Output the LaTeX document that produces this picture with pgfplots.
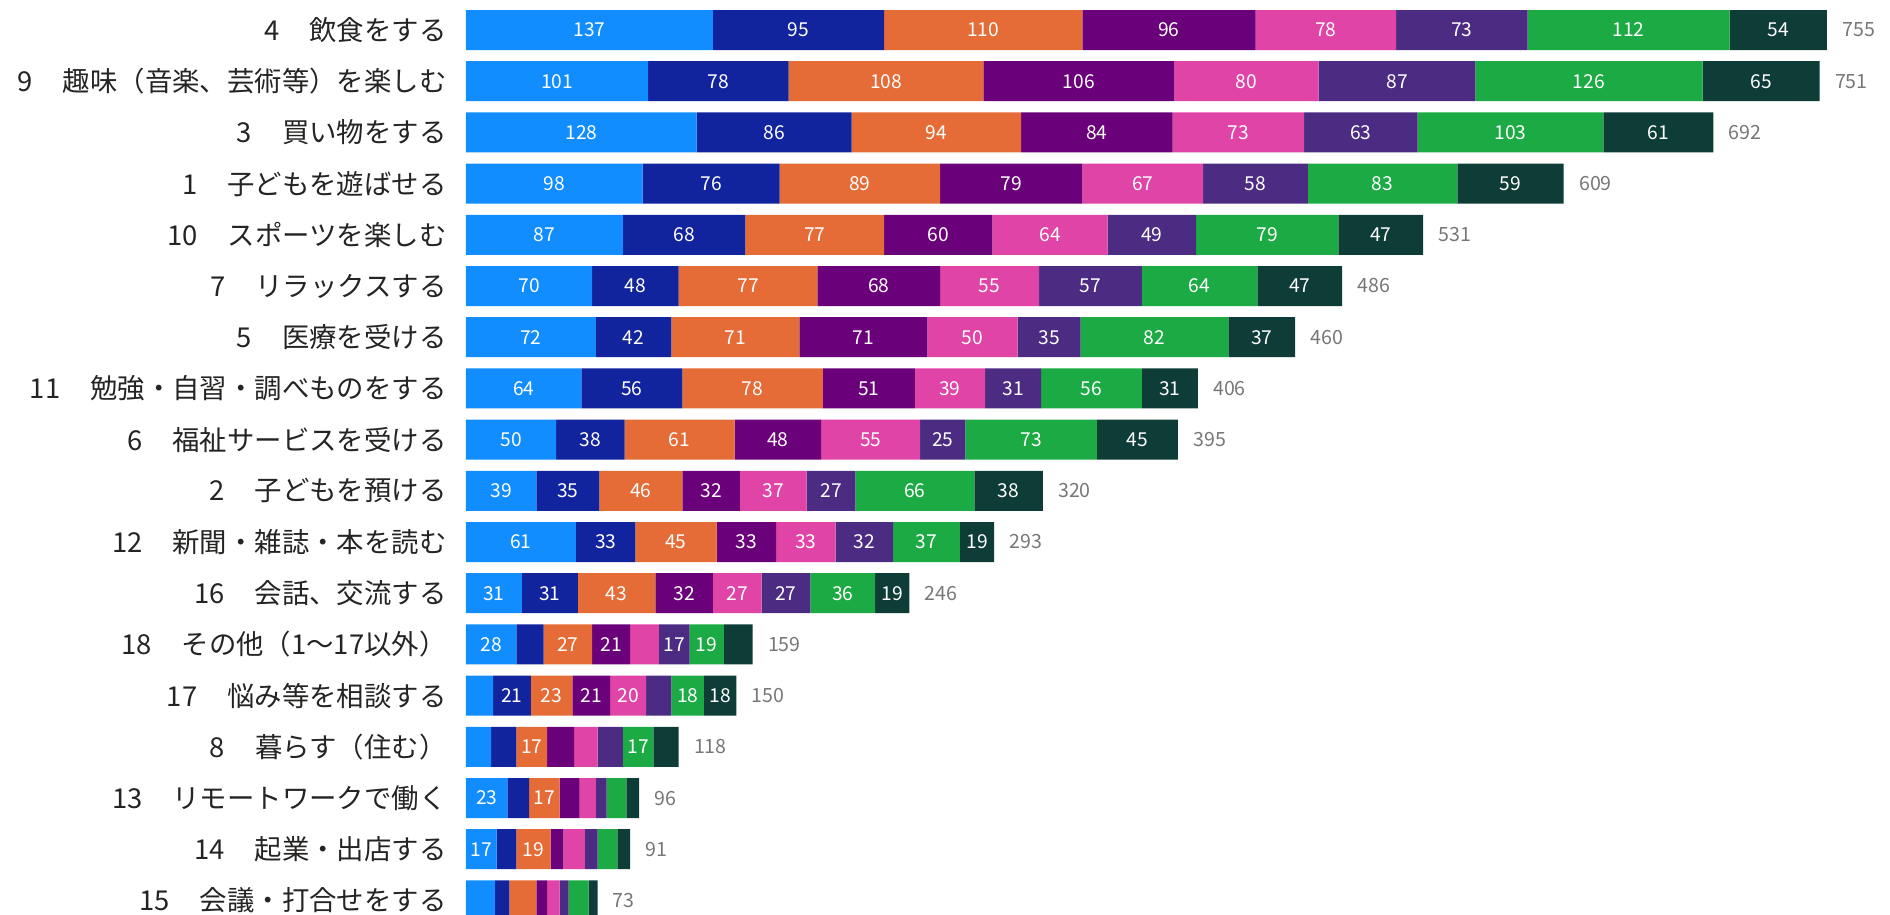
\documentclass[border=0pt]{standalone}
\usepackage{pgfplots}
\usepackage{pgfplotstable}
\pgfplotsset{compat=1.18}
\usepackage{fontspec}
\setmainfont{Noto Sans CJK JP}
\definecolor{c1}{HTML}{118DFF}
\definecolor{c2}{HTML}{12239E}
\definecolor{c3}{HTML}{E66C37}
\definecolor{c4}{HTML}{6B007B}
\definecolor{c5}{HTML}{E044A7}
\definecolor{c6}{HTML}{4B2C82}
\definecolor{c7}{HTML}{1BAA43}
\definecolor{c8}{HTML}{0E3C37}
\definecolor{lab}{HTML}{252423}
\definecolor{totc}{HTML}{777777}

\pgfplotstableread{
row a b c d e f g h tot
0 137 95 110 96 78 73 112 54 755
1 101 78 108 106 80 87 126 65 751
2 128 86 94 84 73 63 103 61 692
3 98 76 89 79 67 58 83 59 609
4 87 68 77 60 64 49 79 47 531
5 70 48 77 68 55 57 64 47 486
6 72 42 71 71 50 35 82 37 460
7 64 56 78 51 39 31 56 31 406
8 50 38 61 48 55 25 73 45 395
9 39 35 46 32 37 27 66 38 320
10 61 33 45 33 33 32 37 19 293
11 31 31 43 32 27 27 36 19 246
12 28 15 27 21 16 17 19 16 159
13 15 21 23 21 20 14 18 18 150
14 14 14 17 15 13 14 17 14 118
15 23 12 17 11 9 6 11 7 96
16 17 11 19 7 12 7 11 7 91
17 16 8 15 6 7 5 11 5 73
}\datatable

\pgfplotsset{
  base/.style={
    scale only axis,
    width=712pt, height=457.5pt,
    bar width=20pt,
    xmin=0, xmax=790,
    ymin=-0.586, ymax=17.285,
    y dir=reverse,
  },
  seg/.style={
    fill=#1, draw=none,
    point meta=explicit symbolic,
    nodes near coords={\ifnum\pgfplotspointmeta<17 \else\pgfplotspointmeta\fi},
    every node near coord/.style={anchor=center, text=white,
      font=\fontsize{9.6pt}{11pt}\selectfont},
  }
}

\begin{document}
\begin{tikzpicture}
\begin{axis}[
  base,
  name=ax,
  xbar stacked,
  axis x line=none,
  axis y line*=left,
  y axis line style={draw=none},
  ytick={0,...,17},
  yticklabels={
    4\hspace{1.1em}飲食をする,
    9\hspace{1.1em}趣味（音楽、芸術等）を楽しむ,
    3\hspace{1.1em}買い物をする,
    1\hspace{1.1em}子どもを遊ばせる,
    10\hspace{1.1em}スポーツを楽しむ,
    7\hspace{1.1em}リラックスする,
    5\hspace{1.1em}医療を受ける,
    11\hspace{1.1em}勉強・自習・調べものをする,
    6\hspace{1.1em}福祉サービスを受ける,
    2\hspace{1.1em}子どもを預ける,
    12\hspace{1.1em}新聞・雑誌・本を読む,
    16\hspace{1.1em}会話、交流する,
    18\hspace{1.1em}その他（1〜17以外）,
    17\hspace{1.1em}悩み等を相談する,
    8\hspace{1.1em}暮らす（住む）,
    13\hspace{1.1em}リモートワークで働く,
    14\hspace{1.1em}起業・出店する,
    15\hspace{1.1em}会議・打合せをする},
  major tick length=0pt,
  yticklabel style={font=\fontsize{13.7pt}{16pt}\selectfont, text=lab, anchor=east, inner sep=0pt, xshift=-9.5pt},
  clip=true,
]
\addplot[seg=c1] table[x=a, y=row, meta=a] {\datatable};
\addplot[seg=c2] table[x=b, y=row, meta=b] {\datatable};
\addplot[seg=c3] table[x=c, y=row, meta=c] {\datatable};
\addplot[seg=c4] table[x=d, y=row, meta=d] {\datatable};
\addplot[seg=c5] table[x=e, y=row, meta=e] {\datatable};
\addplot[seg=c6] table[x=f, y=row, meta=f] {\datatable};
\addplot[seg=c7] table[x=g, y=row, meta=g] {\datatable};
\addplot[seg=c8] table[x=h, y=row, meta=h] {\datatable};
\end{axis}
\begin{axis}[
  base,
  at={(ax.south west)}, anchor=south west,
  xbar,
  hide axis,
  clip=false,
]
\addplot[draw=none, fill=none,
  point meta=explicit symbolic,
  nodes near coords,
  every node near coord/.style={anchor=west, text=totc,
    font=\fontsize{9.8pt}{11pt}\selectfont, inner sep=0pt, xshift=7.5pt}]
  table[x=tot, y=row, meta=tot] {\datatable};
\end{axis}
\pgfresetboundingbox
\path[use as bounding box] ([xshift=-233pt]ax.south west) rectangle (ax.north east);
\end{tikzpicture}
\end{document}
